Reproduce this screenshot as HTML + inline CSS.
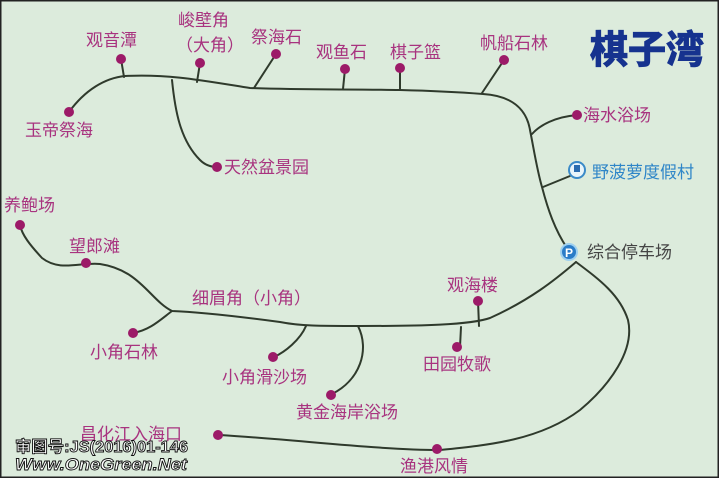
<!DOCTYPE html>
<html><head><meta charset="utf-8"><style>
html,body{margin:0;padding:0;}
body{width:719px;height:478px;overflow:hidden;background:#dcebdc;}
svg{display:block;}
text{font-family:"Liberation Sans","Noto Sans CJK SC",sans-serif;}
.l{fill:#a8337f;font-size:17px;}
</style></head><body>
<svg width="719" height="478" viewBox="0 0 719 478">
<rect width="719" height="478" fill="#dcebdc"/>
<rect x="0.5" y="0.5" width="718" height="477" fill="none" stroke="#222" stroke-width="2"/>
<g fill="none" stroke="#2f3a2c" stroke-width="2" stroke-linecap="round">
<path d="M69,112 C85,90 105,78 125,76 C170,74 200,80 250,88 C300,90 350,89 400,90 C440,91 470,93 483,94 C515,96 527,112 530,130 C534,150 537,170 542,187 C548,210 555,230 567,248"/>
<path d="M576,262 C600,280 620,295 628,320 C635,350 610,385 580,410 C540,440 490,445 440,450 C380,450 300,440 220,435"/>
<path d="M576,262 C555,280 530,300 490,318 C470,325 420,326 360,326 C320,326 300,326 280,322 C250,318 200,312 172,311 C150,300 140,270 100,264 C80,262 60,272 42,258 C30,245 22,235 20,225"/>
<path d="M172,311 C160,320 150,330 133,333"/>
<path d="M172,80 C175,110 180,140 200,160 C205,165 210,167 217,167"/>
<path d="M121,59 L124,77"/><path d="M200,63 L197,82"/><path d="M276,54 L254,88"/>
<path d="M345,69 L343,89"/><path d="M400,68 L400,90"/><path d="M504,60 L482,93"/>
<path d="M577,115 C555,117 540,125 532,134"/><path d="M570,176 L543,187"/>
<path d="M478,301 L479,326"/><path d="M460,347 L461,327"/>
<path d="M306,326 C300,340 285,352 274,357"/>
<path d="M358,326 C370,350 360,380 332,394"/>
</g>
<g fill="#9c1a68">
<circle cx="121" cy="59" r="5"/><circle cx="200" cy="63" r="5"/><circle cx="276" cy="54" r="5"/>
<circle cx="345" cy="69" r="5"/><circle cx="400" cy="68" r="5"/><circle cx="504" cy="60" r="5"/>
<circle cx="69" cy="112" r="5"/><circle cx="217" cy="167" r="5"/><circle cx="577" cy="115" r="5"/>
<circle cx="20" cy="225" r="5"/><circle cx="86" cy="263" r="5"/><circle cx="133" cy="333" r="5"/>
<circle cx="478" cy="301" r="5"/><circle cx="457" cy="347" r="5"/><circle cx="273" cy="357" r="5"/>
<circle cx="331" cy="395" r="5"/><circle cx="218" cy="435" r="5"/><circle cx="437" cy="449" r="5"/>
</g>
<circle cx="577" cy="170" r="8" fill="#e8f4fa" stroke="#3a8ac8" stroke-width="2"/>
<rect x="574" y="165" width="6" height="7" fill="#2a6cb0"/>
<circle cx="569" cy="252" r="9" fill="#9ed0f0"/><circle cx="569" cy="252" r="7" fill="#2a7cc8"/>
<text x="569" y="257" font-size="12" font-weight="bold" fill="#fff" text-anchor="middle">P</text>
<text x="590" y="63" font-size="38" font-weight="bold" fill="#16338f" stroke="#16338f" stroke-width="1.2">棋子湾</text>
<text class="l" x="86" y="46">观音潭</text>
<text class="l" x="178" y="26">峻壁角</text>
<text class="l" x="176" y="51">（大角）</text>
<text class="l" x="251" y="43">祭海石</text>
<text class="l" x="316" y="58">观鱼石</text>
<text class="l" x="390" y="58">棋子篮</text>
<text class="l" x="480" y="49">帆船石林</text>
<text class="l" x="25" y="136">玉帝祭海</text>
<text class="l" x="224" y="173">天然盆景园</text>
<text class="l" x="583" y="121">海水浴场</text>
<text x="592" y="178" font-size="17" fill="#2f86c8">野菠萝度假村</text>
<text x="587" y="258" font-size="17" fill="#444">综合停车场</text>
<text class="l" x="4" y="211">养鲍场</text>
<text class="l" x="69" y="252">望郎滩</text>
<text class="l" x="192" y="304">细眉角（小角）</text>
<text class="l" x="447" y="291">观海楼</text>
<text class="l" x="90" y="358">小角石林</text>
<text class="l" x="423" y="370">田园牧歌</text>
<text class="l" x="222" y="383">小角滑沙场</text>
<text class="l" x="296" y="418">黄金海岸浴场</text>
<text class="l" x="80" y="440">昌化江入海口</text>
<text class="l" x="400" y="472">渔港风情</text>
<text x="15" y="452" font-size="16" font-weight="bold" fill="#fff" stroke="#111" stroke-width="0.9" textLength="173" lengthAdjust="spacingAndGlyphs">审图号:JS(2016)01-146</text>
<text x="15" y="470" font-size="17" font-weight="bold" font-style="italic" fill="#fff" stroke="#111" stroke-width="0.9" textLength="172" lengthAdjust="spacingAndGlyphs">Www.OneGreen.Net</text>
</svg>
</body></html>
